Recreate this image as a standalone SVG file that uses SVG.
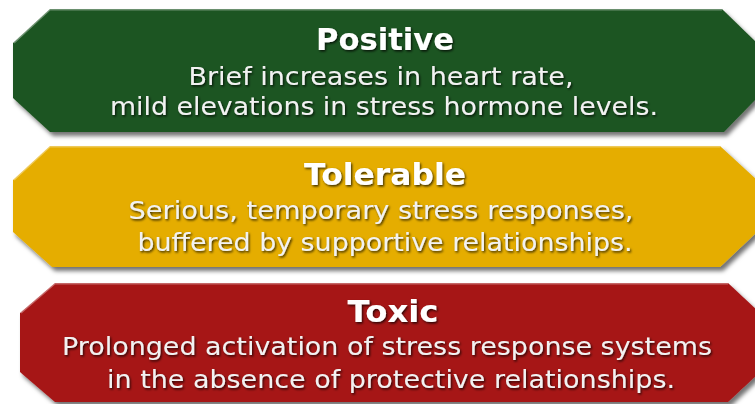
<svg xmlns="http://www.w3.org/2000/svg" width="755" height="404" viewBox="0 0 755 404">
  <defs>
    <filter id="boxShadow" x="-5%" y="-10%" width="115%" height="130%">
      <feDropShadow dx="3" dy="4" stdDeviation="2" flood-color="#000" flood-opacity="0.55"/>
    </filter>
    <filter id="textShadow" x="-5%" y="-20%" width="110%" height="150%">
      <feDropShadow dx="1.2" dy="1.5" stdDeviation="0.9" flood-color="#000" flood-opacity="0.75"/>
    </filter>
  </defs>
  <style>
    .title { font-family: "DejaVu Sans", Verdana, sans-serif; font-weight: bold; font-size: 30px; fill: #ffffff; text-anchor: middle; filter: url(#textShadow); }
    .body { font-family: "DejaVu Sans", Verdana, sans-serif; font-size: 25px; fill: #f2f2f2; text-anchor: middle; filter: url(#textShadow); }
    .hl { fill: none; stroke: #ffffff; stroke-opacity: 0.35; stroke-width: 1.5; }
  </style>
  <rect x="0" y="0" width="755" height="404" fill="#ffffff"/>

  <g id="positive">
    <polygon points="50,9 722,9 757,43 757,98 724,132 50,132 13,98 13,43" fill="#1f5422" filter="url(#boxShadow)"/>
    <polyline class="hl" points="14,43 50,9.8 722,9.8"/>
    <text class="title" x="385" y="50" textLength="138" lengthAdjust="spacingAndGlyphs">Positive</text>
    <text class="body" x="381" y="85" textLength="385" lengthAdjust="spacingAndGlyphs">Brief increases in heart rate,</text>
    <text class="body" x="384" y="115" textLength="548" lengthAdjust="spacingAndGlyphs">mild elevations in stress hormone levels.</text>
  </g>

  <g id="tolerable">
    <polygon points="50,146 720,146 757,180 757,232 720,267 52,267 13,232 13,180" fill="#e5ad00" filter="url(#boxShadow)"/>
    <polyline class="hl" points="14,180 50,146.8 720,146.8"/>
    <text class="title" x="385" y="185" textLength="162" lengthAdjust="spacingAndGlyphs">Tolerable</text>
    <text class="body" x="381" y="219" textLength="505" lengthAdjust="spacingAndGlyphs">Serious, temporary stress responses,</text>
    <text class="body" x="385" y="251" textLength="495" lengthAdjust="spacingAndGlyphs">buffered by supportive relationships.</text>
  </g>

  <g id="toxic">
    <polygon points="55,283 728,283 760,313 760,372 728,402 55,402 20,372 20,313" fill="#a61415" filter="url(#boxShadow)"/>
    <polyline class="hl" points="21,313 55,283.8 728,283.8"/>
    <text class="title" x="393" y="322" textLength="91" lengthAdjust="spacingAndGlyphs">Toxic</text>
    <text class="body" x="387" y="355" textLength="650" lengthAdjust="spacingAndGlyphs">Prolonged activation of stress response systems</text>
    <text class="body" x="391" y="388" textLength="568" lengthAdjust="spacingAndGlyphs">in the absence of protective relationships.</text>
  </g>
</svg>
